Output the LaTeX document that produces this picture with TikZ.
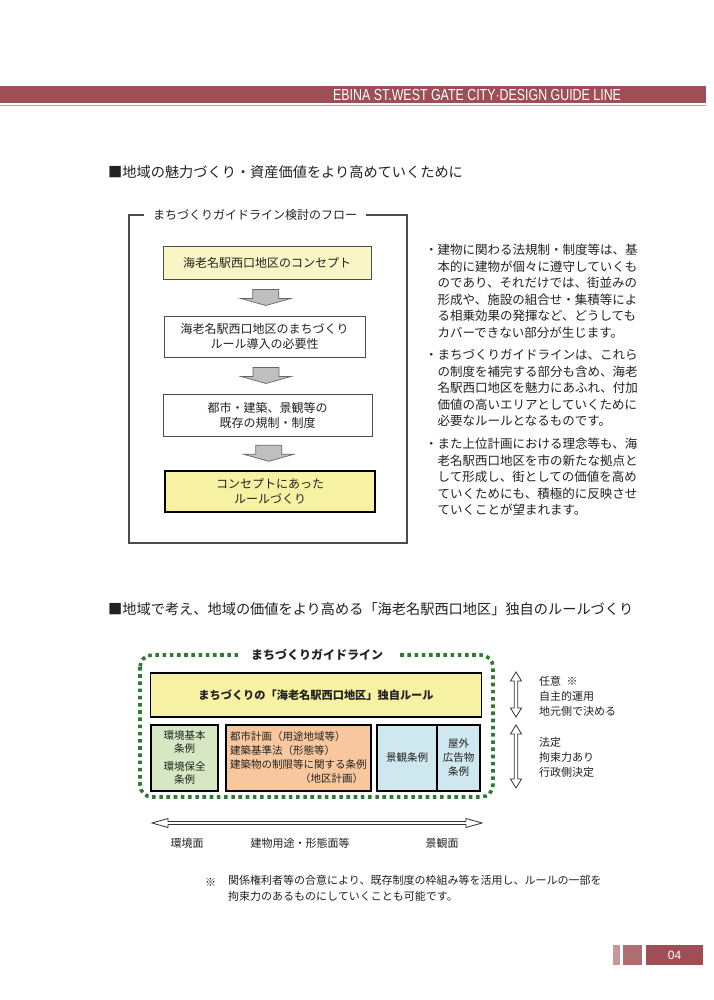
\documentclass[tikz,border=0pt]{standalone}
\usepackage{fontspec}
\usepackage{graphicx}
\setmainfont{Noto Sans CJK JP}
\newfontfamily\latinfont{Liberation Sans}
\usetikzlibrary{calc,positioning}

\definecolor{barred}{HTML}{9E4E55}
\definecolor{barline}{HTML}{C99A9E}
\definecolor{footA}{HTML}{C8979A}
\definecolor{footB}{HTML}{AF6C71}
\definecolor{paleyellow}{HTML}{FAF5C4}
\definecolor{ruleyellow}{HTML}{F7F1A4}
\definecolor{guidegreen}{HTML}{2E7B34}
\definecolor{envgreen}{HTML}{D5E8C3}
\definecolor{cityorange}{HTML}{F9C79E}
\definecolor{viewblue}{HTML}{CFE7EE}
\definecolor{arrowgray}{HTML}{BFBFBF}
\definecolor{ink}{HTML}{222222}

\tikzset{
  sectiontitle/.style={anchor=west, inner sep=0pt, text=ink, font=\fontsize{14.2}{16}\selectfont},
  flowbox/.style={draw=black!70, line width=1pt, align=center, inner sep=0pt, text=ink, font=\fontsize{12}{15}\selectfont},
  flowframe/.style={draw=black!70, line width=1.3pt},
  blockarrow/.style={fill=arrowgray, draw=black!60, line width=0.7pt},
  bodytext/.style={anchor=west, align=left, inner sep=0pt, text=ink, font=\fontsize{12.5}{16.5}\selectfont},
  guideframe/.style={draw=guidegreen, line width=3.6pt, dash pattern=on 3.6pt off 3.6pt, rounded corners=12pt},
  rulebox/.style={draw=black, line width=1.5pt, align=center, inner sep=0pt, text=ink, minimum height=66pt, font=\fontsize{10.5}{13}\selectfont},
  sidetext/.style={anchor=west, align=left, inner sep=0pt, text=ink, font=\fontsize{11}{15}\selectfont},
  hollowarrow/.style={draw=black!80, line width=0.8pt, fill=white, line join=miter},
  smalltext/.style={inner sep=0pt, text=ink, font=\fontsize{11}{16}\selectfont},
}

% grey block arrow between two flow boxes
\newcommand\flowarrow[2]{%
  \path (#1.south) -- (#2.north) coordinate[pos=0.5] (mid);
  \filldraw[blockarrow] ($(mid)+(-13,-8)$) -- ($(mid)+(13,-8)$) -- ($(mid)+(13,1)$)
    -- ($(mid)+(25,1)$) -- ($(mid)+(0,8)$) -- ($(mid)+(-25,1)$) -- ($(mid)+(-13,1)$) -- cycle;}
% hollow double arrows
\newcommand\vdoublearrow[2]{%
  \draw[hollowarrow] (#1) -- ($(#1)+(5.5,9)$) -- ($(#1)+(1.8,9)$) -- ($(#2)+(1.8,-9)$)
    -- ($(#2)+(5.5,-9)$) -- (#2) -- ($(#2)+(-5.5,-9)$) -- ($(#2)+(-1.8,-9)$)
    -- ($(#1)+(-1.8,9)$) -- ($(#1)+(-5.5,9)$) -- cycle;}
\newcommand\hdoublearrow[2]{%
  \draw[hollowarrow] (#1) -- ($(#1)+(16,-4.5)$) -- ($(#1)+(16,-1.5)$) -- ($(#2)+(-16,-1.5)$)
    -- ($(#2)+(-16,-4.5)$) -- (#2) -- ($(#2)+(-16,4.5)$) -- ($(#2)+(-16,1.5)$)
    -- ($(#1)+(16,1.5)$) -- ($(#1)+(16,4.5)$) -- cycle;}

\begin{document}
\begin{tikzpicture}[x=1pt,y=-1pt]
  \useasboundingbox (0,0) rectangle (713,1000);
  \fill[white] (0,0) rectangle (713,1000);

  % header band
  \fill[barred] (0,86) rectangle (706,103);
  \draw[barline, line width=0.8pt] (0,105.5) -- (706,105.5);
  \node[anchor=west, inner sep=0pt, text=white, font=\latinfont\fontsize{16}{16}\selectfont] (head) at (333,95)
    {\scalebox{0.775}[1]{EBINA ST.WEST GATE CITY·DESIGN GUIDE LINE}};

  % first section
  \node[sectiontitle] (sec1) at (108,172) {■地域の魅力づくり・資産価値をより高めていくために};

  \draw[flowframe] (129,215) rectangle (407,543);
  \node[fill=white, inner xsep=9pt, inner ysep=2pt, text=ink, font=\fontsize{12}{15}\selectfont] (flowtitle) at (255,215) {まちづくりガイドライン検討のフロー};

  \node[flowbox, fill=paleyellow, minimum width=208pt, minimum height=33pt] (concept) at (267,262.5) {海老名駅西口地区のコンセプト};
  \node[flowbox, minimum width=201pt, minimum height=41pt] (need) at (264.5,336.5) {海老名駅西口地区のまちづくり\\ルール導入の必要性};
  \node[flowbox, minimum width=209pt, minimum height=42pt] (exist) at (267.5,415) {都市・建築、景観等の\\既存の規制・制度};
  \node[flowbox, fill=ruleyellow, draw=black, line width=1.8pt, minimum width=210pt, minimum height=41pt] (rules) at (270,491.5) {コンセプトにあった\\ルールづくり};

  \flowarrow{concept}{need}
  \flowarrow{need}{exist}
  \flowarrow{exist}{rules}

  \node[bodytext] (para1) at (425,291.25) {・建物に関わる法規制・制度等は、基\\
    \hspace*{1em}本的に建物が個々に遵守していくも\\
    \hspace*{1em}のであり、それだけでは、街並みの\\
    \hspace*{1em}形成や、施設の組合せ・集積等によ\\
    \hspace*{1em}る相乗効果の発揮など、どうしても\\
    \hspace*{1em}カバーできない部分が生じます。};
  \node[bodytext] (para2) at (425,388) {・まちづくりガイドラインは、これら\\
    \hspace*{1em}の制度を補完する部分も含め、海老\\
    \hspace*{1em}名駅西口地区を魅力にあふれ、付加\\
    \hspace*{1em}価値の高いエリアとしていくために\\
    \hspace*{1em}必要なルールとなるものです。};
  \node[bodytext] (para3) at (425,477) {・また上位計画における理念等も、海\\
    \hspace*{1em}老名駅西口地区を市の新たな拠点と\\
    \hspace*{1em}して形成し、街としての価値を高め\\
    \hspace*{1em}ていくためにも、積極的に反映させ\\
    \hspace*{1em}ていくことが望まれます。};

  % second section
  \node[sectiontitle] (sec2) at (108,609) {■地域で考え、地域の価値をより高める「海老名駅西口地区」独自のルールづくり};

  \draw[guideframe] (140,655) rectangle (493,797);
  \node[fill=white, inner xsep=13.5pt, inner ysep=2pt, text=ink, font=\bfseries\fontsize{12}{15}\selectfont] (guidetitle) at (317,655) {まちづくりガイドライン};

  \node[rulebox, fill=ruleyellow, minimum width=331pt, minimum height=44pt, font=\bfseries\fontsize{11.2}{14}\selectfont] (localrule) at (316,695) {まちづくりの「海老名駅西口地区」独自ルール};
  \node[rulebox, fill=envgreen, minimum width=67pt] (envlaw) at (184.5,758) {環境基本\\条例\\[5pt]環境保全\\条例};
  \node[rulebox, fill=cityorange, minimum width=145pt, text width=137pt, align=left, inner xsep=4pt, font=\fontsize{10.5}{14}\selectfont] (citylaw) at (298.5,758)
    {都市計画（用途地域等）\\建築基準法（形態等）\\建築物の制限等に関する条例\\\hspace*{\fill}（地区計画）\hspace*{4pt}};
  \node[rulebox, fill=viewblue, minimum width=60pt] (viewlaw) at (407,758) {景観条例};
  \node[rulebox, fill=viewblue, minimum width=43pt, font=\fontsize{10.5}{14}\selectfont] (adlaw) at (458.5,758) {屋外\\広告物\\条例};

  % legal force scale on the right
  \coordinate (freetop) at (516,672);
  \coordinate (freebot) at (516,717);
  \coordinate (lawtop) at (516,725);
  \coordinate (lawbot) at (516,788);
  \vdoublearrow{freetop}{freebot}
  \vdoublearrow{lawtop}{lawbot}
  \node[sidetext] (freenote) at (539,696) {任意\enspace※\\自主的運用\\地元側で決める};
  \node[sidetext] (lawnote) at (539,757) {法定\\拘束力あり\\行政側決定};

  % aspect scale below
  \coordinate (aspleft) at (152,823);
  \coordinate (aspright) at (482,823);
  \hdoublearrow{aspleft}{aspright}
  \node[smalltext] (envside) at (187,843) {環境面};
  \node[smalltext] (useside) at (300,843) {建物用途・形態面等};
  \node[smalltext] (viewside) at (442,843) {景観面};

  \node[smalltext, anchor=west] (notemark) at (205,882) {※};
  \node[smalltext, anchor=north west, align=left] (note) at (228,875) {関係権利者等の合意により、既存制度の枠組み等を活用し、ルールの一部を\\拘束力のあるものにしていくことも可能です。};

  % page number
  \fill[footA] (613,945) rectangle (620,965);
  \fill[footB] (623,945) rectangle (642,965);
  \fill[barred] (646,945) rectangle (703,965);
  \node[text=white, inner sep=0pt, font=\latinfont\fontsize{12}{12}\selectfont] (pageno) at (674.5,955) {04};
\end{tikzpicture}
\end{document}
